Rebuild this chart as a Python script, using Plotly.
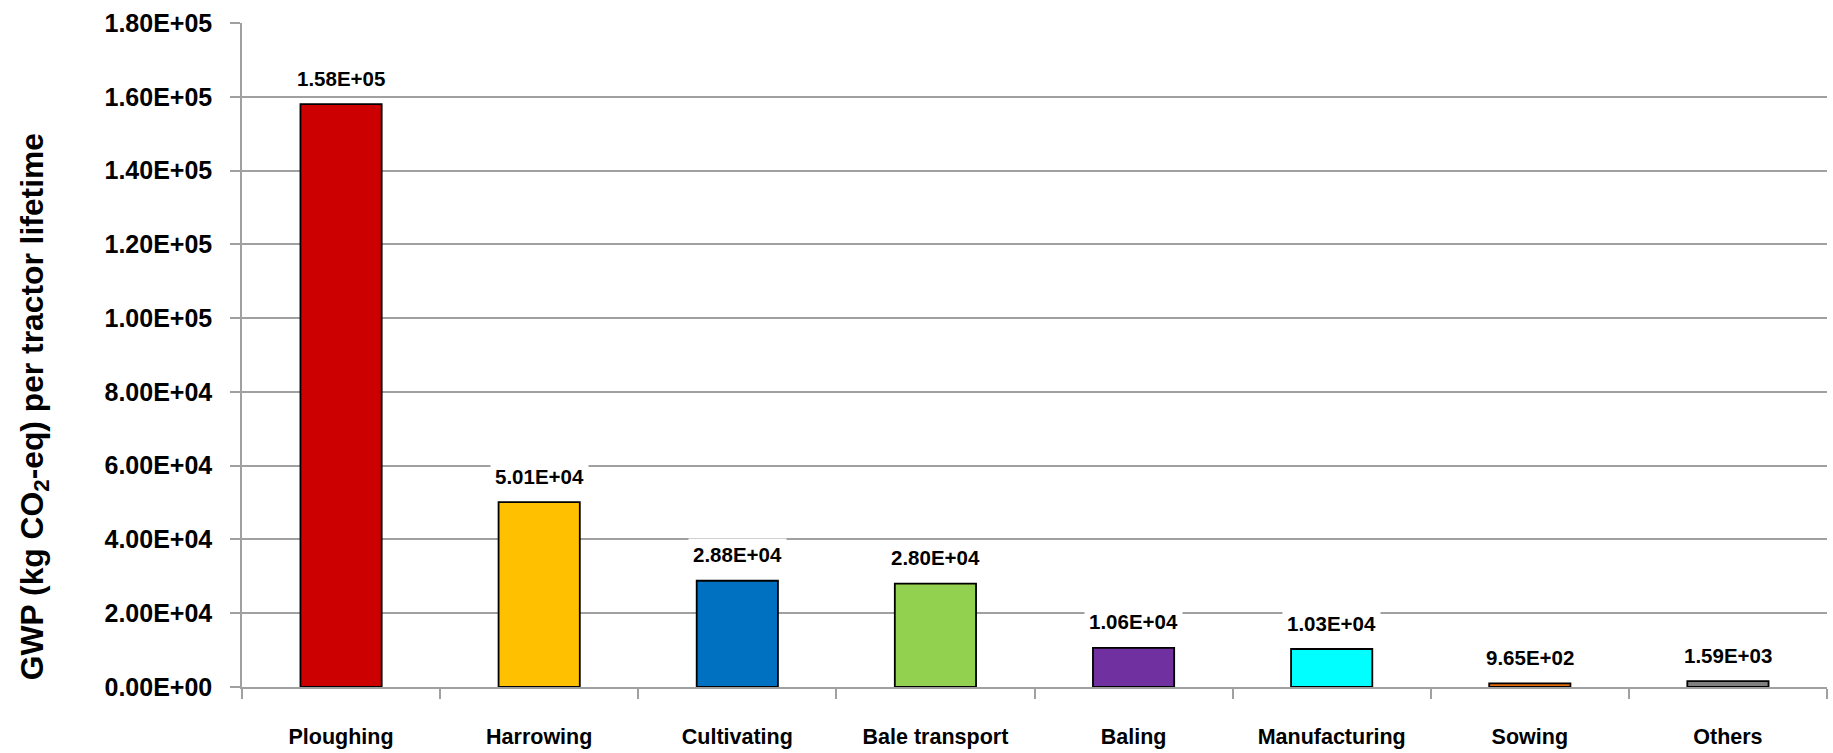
import plotly.graph_objects as go

categories = ["Ploughing", "Harrowing", "Cultivating", "Bale transport", "Baling",
              "Manufacturing", "Sowing", "Others"]
values = [158000, 50100, 28800, 28000, 10600, 10300, 965, 1590]
colors = ["#CC0000", "#FFC000", "#0070C0", "#92D050", "#7030A0", "#00FFFF", "#E46C0A", "#808080"]
y_ticks = [0, 20000, 40000, 60000, 80000, 100000, 120000, 140000, 160000, 180000]
y_title = "GWP (kg CO<sub>2</sub>-eq) per tractor lifetime"

FONT = "Liberation Sans, Arial, sans-serif"

def sci(v):
    return f"{v:.2E}"

fig = go.Figure()
fig.add_trace(go.Bar(
    x=categories, y=values,
    marker=dict(color=colors, line=dict(color="black", width=1.8)),
    width=0.41,
    hoverinfo="skip",
))

for c, v in zip(categories, values):
    fig.add_annotation(
        x=c, y=v, text=f"<b>{sci(v)}</b>", showarrow=False,
        yanchor="middle", xanchor="center", yshift=26,
        font=dict(family=FONT, size=20.5, color="black"),
        bgcolor="white", borderpad=4,
    )

fig.add_annotation(
    xref="paper", yref="paper",
    x=-(242 - 34) / 1585, y=(686.7 - 406) / 663.7,
    text=f"<b>{y_title}</b>", textangle=-90, showarrow=False,
    xanchor="center", yanchor="middle",
    font=dict(family=FONT, size=31.8, color="black"),
)

fig.update_layout(
    width=1833, height=753,
    margin=dict(l=242, r=6, t=23, b=66, autoexpand=False),
    paper_bgcolor="white", plot_bgcolor="white",
    showlegend=False,
    font=dict(family=FONT, color="black"),
)

fig.update_xaxes(
    type="category",
    automargin=False,
    range=[-0.5, len(categories) - 0.5],
    showgrid=False,
    showline=True, linecolor="#A0A0A0", linewidth=1.5,
    ticks="outside", ticklen=10, tickcolor="#A0A0A0", tickwidth=1.5,
    tickson="boundaries",
    tickvals=categories,
    ticktext=[f"<b>{c}</b>" for c in categories],
    tickfont=dict(family=FONT, size=21.5, color="black"),
    ticklabelstandoff=29,
    zeroline=False,
)

fig.update_yaxes(
    automargin=False,
    range=[0, 180000],
    tickvals=y_ticks,
    ticktext=[f"<b>{sci(t)}</b>" for t in y_ticks],
    tickfont=dict(family=FONT, size=25, color="black"),
    showgrid=True, gridcolor="#A0A0A0", gridwidth=1.5,
    showline=True, linecolor="#A0A0A0", linewidth=1.5,
    ticks="outside", ticklen=10, tickcolor="#A0A0A0", tickwidth=1.5,
    ticklabelstandoff=13,
    zeroline=False,
)

fig.write_html("out.html")
